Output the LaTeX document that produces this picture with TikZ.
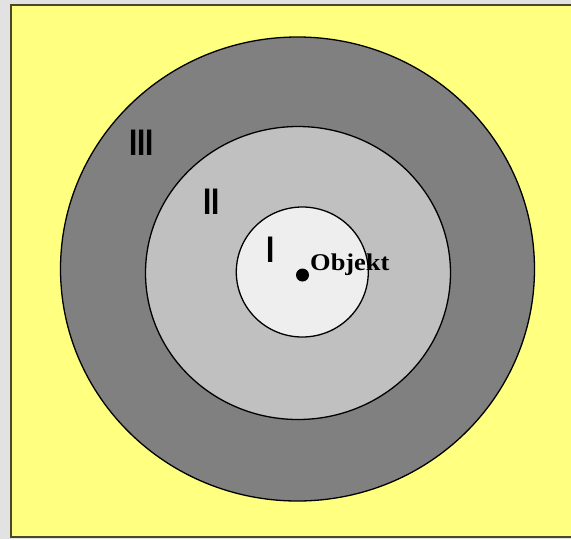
\documentclass[tikz,border=0pt]{standalone}
\usepackage{fontspec}
\setmainfont{Liberation Serif}
\setsansfont{Liberation Sans}
\definecolor{paneyellow}{RGB}{255,255,128}
\definecolor{framegray}{RGB}{74,72,40}
\definecolor{outergray}{RGB}{128,128,128}
\definecolor{middlegray}{RGB}{192,192,192}
\definecolor{innergray}{RGB}{238,238,238}
\definecolor{pagegray}{RGB}{226,226,226}

\begin{document}
\begin{tikzpicture}[x=1pt,y=-1pt]
\tikzset{
  zone/.style={draw=black,line width=1.3pt},
  numeral/.style={anchor=base west,inner sep=0pt,xscale=0.8,font=\sffamily\bfseries\fontsize{37}{37}\selectfont},
  objlabel/.style={anchor=base west,inner sep=0pt,xscale=1.1,font=\bfseries\fontsize{24}{24}\selectfont}
}
\useasboundingbox (0,0) rectangle (571,539);
\fill[pagegray] (0,0) rectangle (571,539);
\fill[paneyellow] (11,5) rectangle (571,537);
\draw[framegray,line width=2pt] (575,5) -- (11,5) -- (11,537) -- (575,537);
% the three zones
\filldraw[zone,fill=outergray] (297.5,269) ellipse [x radius=237,y radius=232];
\filldraw[zone,fill=middlegray] (298,273) ellipse [x radius=152.5,y radius=146.5];
\filldraw[zone,fill=innergray] (302.3,272) ellipse [x radius=66,y radius=65];
% labels
\node[numeral] (n_III) at (129,155) {III};
\node[numeral] (n_II) at (203,214) {II};
\node[numeral] (n_I) at (266.5,262) {I};
\fill[black] (302.5,275) circle [radius=6.5];
\coordinate (n_obj) at (302.5,275);
\node[objlabel] (n_objekt) at (310,270) {Objekt};
\end{tikzpicture}
\end{document}
